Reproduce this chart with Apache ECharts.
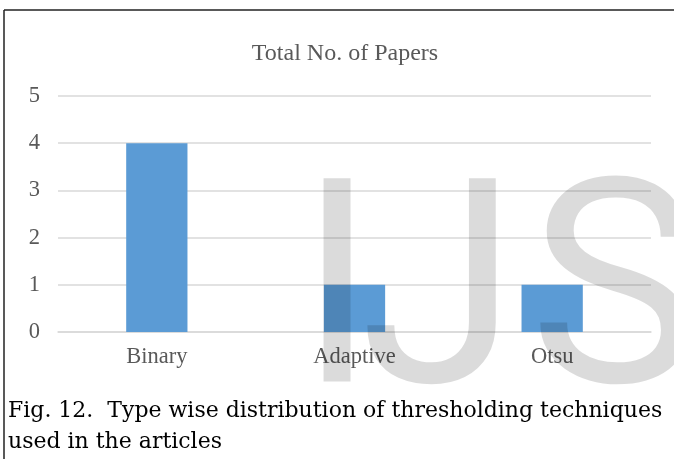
<!DOCTYPE html>
<html>
<head>
<meta charset="utf-8">
<script src="https://cdn.jsdelivr.net/npm/echarts@6/dist/echarts.min.js"></script>
<style>
html,body{margin:0;padding:0;background:#fff;}
#chart{width:674px;height:459px;}
</style>
</head>
<body>
<div id="chart"></div>
<script>
const categories = ['Binary', 'Adaptive', 'Otsu'];
const paperCounts = [4, 1, 1];
const yTickLabels = ['0', '1', '2', '3', '4', '5'];
const chartTitle = 'Total No. of Papers';
const captionLines = ['Fig. 12.  Type wise distribution of thresholding techniques', 'used in the articles'];
const watermarkLetters = ['I', 'J', 'S'];

const chart = echarts.init(document.getElementById('chart'), null, {renderer: 'canvas'});
const serif = '"Liberation Serif", "Times New Roman", serif';
const wmX = [298, 360, 529];
const wmStyle = {fontFamily: 'Roboto', fontSize: 286, fill: 'rgba(0,0,0,0.14)', verticalAlign: 'middle'};
const option = {
  animation: false,
  backgroundColor: '#ffffff',
  title: {
    text: chartTitle,
    left: 340,
    top: 37,
    textAlign: 'center',
    textStyle: {fontFamily: serif, fontSize: 24, fontWeight: 'normal', color: '#595959'}
  },
  grid: {left: 58, right: 23, top: 96, bottom: 127, containLabel: false},
  xAxis: {
    type: 'category',
    data: categories,
    axisLine: {lineStyle: {color: '#d9d9d9', width: 1.5}},
    axisTick: {show: false},
    axisLabel: {margin: 14, fontFamily: serif, fontSize: 22.5, color: '#595959'}
  },
  yAxis: {
    type: 'value',
    min: 0, max: 5, interval: 1,
    axisLine: {show: false},
    axisTick: {show: false},
    axisLabel: {margin: 18, fontFamily: serif, fontSize: 22.5, color: '#595959',
      formatter: function (v) { return yTickLabels[Math.round(v)]; }},
    splitLine: {lineStyle: {color: '#d9d9d9', width: 1.5}}
  },
  series: [{
    type: 'bar',
    data: paperCounts,
    barWidth: '31%',
    itemStyle: {color: '#5b9bd5'}
  }],
  graphic: [
    {type: 'line', shape: {x1: 4, y1: 10, x2: 674, y2: 10}, style: {stroke: '#222', lineWidth: 1.5}, z: 100},
    {type: 'line', shape: {x1: 4, y1: 10, x2: 4, y2: 459}, style: {stroke: '#222', lineWidth: 1.5}, z: 100},
    {type: 'text', x: 8, y: 411, z: 100,
      style: {text: captionLines[0], fontFamily: 'DejaVu Serif', fontSize: 22, fill: '#000', verticalAlign: 'middle'}},
    {type: 'text', x: 8, y: 442, z: 100,
      style: {text: captionLines[1], fontFamily: 'DejaVu Serif', fontSize: 22, fill: '#000', verticalAlign: 'middle'}}
  ].concat(watermarkLetters.map(function (ch, i) {
    return {type: 'text', x: wmX[i], y: 310, z: 100, silent: true,
      style: Object.assign({text: ch}, wmStyle)};
  }))
};
chart.setOption(option);
</script>
</body>
</html>
